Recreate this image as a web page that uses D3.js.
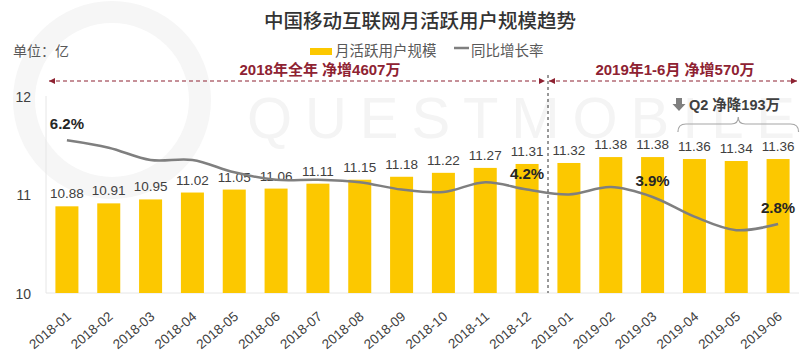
<!DOCTYPE html>
<html>
<head>
<meta charset="utf-8">
<script src="https://cdn.jsdelivr.net/npm/d3@7"></script>
<style>
  body { margin: 0; background: #fff; }
  svg { display: block; }
</style>
</head>
<body>
<div id="chart"></div>
<script>
// data
var months = ["2018-01", "2018-02", "2018-03", "2018-04", "2018-05", "2018-06",
              "2018-07", "2018-08", "2018-09", "2018-10", "2018-11", "2018-12",
              "2019-01", "2019-02", "2019-03", "2019-04", "2019-05", "2019-06"];
var users = [10.88, 10.91, 10.95, 11.02, 11.05, 11.06, 11.11, 11.15, 11.18,
             11.22, 11.27, 11.31, 11.32, 11.38, 11.38, 11.36, 11.34, 11.36];
var growth = [6.2, 5.9, 5.4, 5.4, 4.9, 4.6, 4.6, 4.5, 4.2, 4.1, 4.5, 4.2,
              4.0, 4.3, 3.9, 3.1, 2.55, 2.8];
var growthLabels = ["2018-01", "2018-12", "2019-03", "2019-06"];
var yTicks = [10, 11, 12];

var width = 808, height = 363;
var numFont = "'Liberation Sans', Arial, 'Noto Sans CJK SC', sans-serif";
var cjkFont = "'Noto Sans CJK SC', 'Liberation Sans', sans-serif";

var svg = d3.select("#chart").append("svg")
    .attr("width", width)
    .attr("height", height);

// scales
var x = d3.scaleBand().domain(months).range([46, 799]).paddingInner(0.45).paddingOuter(0.225);
var y = d3.scaleLinear().domain([10, 12]).range([293, 96]);
var y2 = d3.scaleLinear().domain([0, 8]).range([293, 96]);

// faint watermark
var wm = svg.append("g").attr("class", "watermark");
wm.append("circle")
    .attr("cx", 112).attr("cy", 100).attr("r", 88)
    .attr("fill", "none").attr("stroke", "#f6f6f6").attr("stroke-width", 22);
wm.append("text")
    .attr("x", 247).attr("y", 138)
    .attr("textLength", 548)
    .attr("lengthAdjust", "spacing")
    .style("font-family", numFont)
    .style("font-size", "58px")
    .style("fill", "#f4f4f4")
    .text("QUESTMOBILE");

// title
svg.append("text")
    .attr("x", 420).attr("y", 28)
    .attr("text-anchor", "middle")
    .style("font-family", cjkFont)
    .style("font-size", "19.5px")
    .style("font-weight", 500)
    .style("fill", "#333")
    .text("中国移动互联网月活跃用户规模趋势");

// unit
svg.append("text")
    .attr("x", 13).attr("y", 56)
    .style("font-family", cjkFont)
    .style("font-size", "14px")
    .style("fill", "#595959")
    .text("单位：亿");

// legend
svg.append("rect")
    .attr("x", 310).attr("y", 48).attr("width", 22).attr("height", 7)
    .attr("fill", "#fcc800");
svg.append("text")
    .attr("x", 335).attr("y", 56)
    .style("font-family", cjkFont).style("font-size", "14.5px").style("fill", "#595959")
    .text("月活跃用户规模");
svg.append("line")
    .attr("x1", 454).attr("x2", 469).attr("y1", 48).attr("y2", 48)
    .attr("stroke", "#7f7f7f").attr("stroke-width", 2.5);
svg.append("text")
    .attr("x", 471).attr("y", 56)
    .style("font-family", cjkFont).style("font-size", "14.5px").style("fill", "#595959")
    .text("同比增长率");

// axes lines
svg.append("line")
    .attr("x1", 46).attr("x2", 46).attr("y1", y(12)).attr("y2", y(10))
    .attr("stroke", "#e6e6e6");
svg.append("line")
    .attr("x1", 46).attr("x2", 799).attr("y1", y(10)).attr("y2", y(10))
    .attr("stroke", "#e6e6e6");

// y axis
var yAxis = svg.append("g")
    .attr("transform", "translate(46,0)")
    .call(d3.axisLeft(y).tickValues(yTicks).tickSize(0).tickPadding(15).tickFormat(d3.format("d")));
yAxis.select(".domain").remove();
yAxis.selectAll("text")
    .attr("dy", "0.36em")
    .style("font-family", numFont).style("font-size", "14px").style("fill", "#404040");

// x axis labels
var xAxis = svg.append("g")
    .attr("transform", "translate(0," + y(10) + ")")
    .call(d3.axisBottom(x).tickSize(0));
xAxis.select(".domain").remove();
xAxis.selectAll("text")
    .attr("text-anchor", "end")
    .attr("dy", null)
    .attr("y", null)
    .attr("transform", "translate(5,25) rotate(-40)")
    .style("font-family", numFont).style("font-size", "13.5px").style("fill", "#404040");

// bars
svg.selectAll("rect.bar")
    .data(users)
    .enter().append("rect")
    .attr("class", "bar")
    .attr("x", function(d, i) { return x(months[i]); })
    .attr("y", function(d) { return y(d); })
    .attr("width", x.bandwidth())
    .attr("height", function(d) { return y(10) - y(d); })
    .attr("fill", "#fcc800");

// bar value labels
svg.selectAll("text.value")
    .data(users)
    .enter().append("text")
    .attr("class", "value")
    .attr("x", function(d, i) { return x(months[i]) + x.bandwidth() / 2; })
    .attr("y", function(d) { return y(d) - 8; })
    .attr("text-anchor", "middle")
    .style("font-family", numFont).style("font-size", "13.5px").style("fill", "#404040")
    .text(function(d) { return d.toFixed(2); });

// growth line
var line = d3.line()
    .x(function(d, i) { return x(months[i]) + x.bandwidth() / 2; })
    .y(function(d) { return y2(d); })
    .curve(d3.curveCatmullRom.alpha(0.5));

svg.append("path")
    .datum(growth)
    .attr("d", line)
    .attr("fill", "none")
    .attr("stroke", "#7f7f7f")
    .attr("stroke-width", 2.5);

// growth labels
svg.selectAll("text.growth")
    .data(growthLabels)
    .enter().append("text")
    .attr("class", "growth")
    .attr("x", function(m) { return x(m) + x.bandwidth() / 2; })
    .attr("y", function(m) { return y2(growth[months.indexOf(m)]) - 11; })
    .attr("text-anchor", "middle")
    .style("font-family", numFont).style("font-size", "15px").style("font-weight", "bold").style("fill", "#262626")
    .text(function(m) { return growth[months.indexOf(m)].toFixed(1) + "%"; });

// period annotations
var red = "#8e2232";
var defs = svg.append("defs");
defs.append("marker")
    .attr("id", "arrowR").attr("viewBox", "0 0 10 10")
    .attr("refX", 10).attr("refY", 5)
    .attr("markerWidth", 6).attr("markerHeight", 6).attr("markerUnits", "userSpaceOnUse")
    .attr("orient", "auto")
    .append("path").attr("d", "M0,0L10,5L0,10Z").attr("fill", red);
defs.append("marker")
    .attr("id", "arrowL").attr("viewBox", "0 0 10 10")
    .attr("refX", 10).attr("refY", 5)
    .attr("markerWidth", 6).attr("markerHeight", 6).attr("markerUnits", "userSpaceOnUse")
    .attr("orient", "auto-start-reverse")
    .append("path").attr("d", "M0,0L10,5L0,10Z").attr("fill", red);

var splitX = x("2019-01") - x.step() * x.paddingInner() / 2;

svg.append("line")
    .attr("x1", 49).attr("x2", splitX - 3).attr("y1", 81).attr("y2", 81)
    .attr("stroke", red).attr("stroke-width", 1.2).attr("stroke-dasharray", "4,3")
    .attr("marker-start", "url(#arrowL)").attr("marker-end", "url(#arrowR)");
svg.append("line")
    .attr("x1", splitX + 1).attr("x2", 797).attr("y1", 81).attr("y2", 81)
    .attr("stroke", red).attr("stroke-width", 1.2).attr("stroke-dasharray", "4,3")
    .attr("marker-start", "url(#arrowL)").attr("marker-end", "url(#arrowR)");
svg.append("line")
    .attr("x1", splitX).attr("x2", splitX).attr("y1", 75).attr("y2", y(10))
    .attr("stroke", "#333").attr("stroke-width", 1).attr("stroke-dasharray", "3,3");

svg.append("text")
    .attr("x", 320).attr("y", 75)
    .attr("text-anchor", "middle")
    .style("font-family", numFont).style("font-size", "15px").style("font-weight", "bold").style("fill", red)
    .text("2018年全年 净增4607万");
svg.append("text")
    .attr("x", 675).attr("y", 75)
    .attr("text-anchor", "middle")
    .style("font-family", numFont).style("font-size", "15px").style("font-weight", "bold").style("fill", red)
    .text("2019年1-6月 净增570万");

// Q2 note
svg.append("path")
    .attr("d", "M676,98 H682 V104 H685.5 L679,111 L672.5,104 H676 Z")
    .attr("fill", "#7f7f7f");
svg.append("text")
    .attr("x", 689).attr("y", 110)
    .style("font-family", numFont).style("font-size", "14.5px").style("font-weight", "bold").style("fill", "#404040")
    .text("Q2 净降193万");

var bx0 = x("2019-04") - 5, bx1 = x("2019-06") + x.bandwidth() + 9, bmid = (bx0 + bx1) / 2;
svg.append("path")
    .attr("d", "M" + bx0 + ",132 Q" + bx0 + ",124 " + (bx0 + 8) + ",124 L" + (bmid - 7) + ",124 Q" + bmid + ",124 " + bmid + ",117" +
               " Q" + bmid + ",124 " + (bmid + 7) + ",124 L" + (bx1 - 8) + ",124 Q" + bx1 + ",124 " + bx1 + ",132")
    .attr("fill", "none")
    .attr("stroke", "#a6a6a6")
    .attr("stroke-width", 1.2);
</script>
</body>
</html>
